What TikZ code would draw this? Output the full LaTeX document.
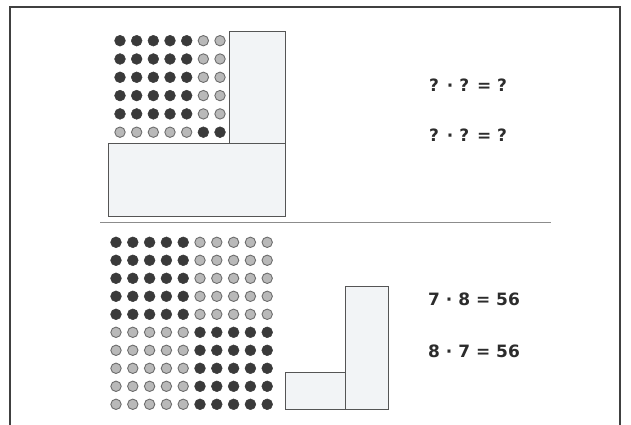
\documentclass[tikz,border=0pt]{standalone}
\usepackage{fontspec}
\newfontfamily\eqfont{DejaVu Sans}
\usepackage{tikz}
\definecolor{dotdark}{HTML}{3A3A3A}
\definecolor{dotlight}{HTML}{B9B9B9}
\definecolor{dotedge}{HTML}{6C6C6C}
\definecolor{panelfill}{HTML}{F2F4F6}
\definecolor{paneledge}{HTML}{555555}
\definecolor{inkgray}{HTML}{2C2C2C}
\tikzset{
  darkdot/.style={fill=dotdark,draw=dotdark,line width=0.5pt},
  lightdot/.style={fill=dotlight,draw=dotedge,line width=0.9pt},
  panel/.style={fill=panelfill,draw=paneledge,line width=1pt},
  eqtext/.style={anchor=base west,inner sep=0pt,text=inkgray,
    font=\eqfont\bfseries\fontsize{17}{20}\selectfont}
}
\begin{document}
\begin{tikzpicture}[x=1pt,y=-1pt]
  \useasboundingbox (0,0) rectangle (631,425);
  \draw[line width=1.3pt,draw=black!75] (10,426) -- (10,7) -- (620,7) -- (620,426);
  \draw[line width=1.1pt,draw=black!45] (100,222.5) -- (551,222.5);
  % top: 7 x 6
  \foreach \r in {1,...,6} {
    \foreach \c in {1,...,7} {
      \pgfmathsetmacro{\x}{120+(\c-1)*16.67}
      \pgfmathsetmacro{\y}{40.7+(\r-1)*18.3}
      \pgfmathtruncatemacro{\dk}{(\r<6 && \c<6) || (\r==6 && \c>5)}
      \ifnum\dk=1
        \filldraw[darkdot] (\x,\y) circle (5.4);
      \else
        \filldraw[lightdot] (\x,\y) circle (5.2);
      \fi
    }
  }
  \filldraw[panel] (229,32) rectangle (285,143);
  \filldraw[panel] (108,143) rectangle (285,216);
  \node[eqtext] (qa) at (429,91.5) {? · ? = ?};
  \node[eqtext] (qb) at (429,141.5) {? · ? = ?};
  % bottom: 10 x 10
  \foreach \r in {1,...,10} {
    \foreach \c in {1,...,10} {
      \pgfmathsetmacro{\x}{116+(\c-1)*16.8}
      \pgfmathsetmacro{\y}{242.3+(\r-1)*18.0}
      \pgfmathtruncatemacro{\dk}{(\r<6 && \c<6) || (\r>5 && \c>5)}
      \ifnum\dk=1
        \filldraw[darkdot] (\x,\y) circle (5.4);
      \else
        \filldraw[lightdot] (\x,\y) circle (5.2);
      \fi
    }
  }
  \filldraw[panel] (285,372) rectangle (345.7,409);
  \filldraw[panel] (345.7,286.7) rectangle (388.3,409);
  \node[eqtext] (ea) at (428,305.3) {7 · 8 = 56};
  \node[eqtext] (eb) at (428,357) {8 · 7 = 56};
\end{tikzpicture}
\end{document}
